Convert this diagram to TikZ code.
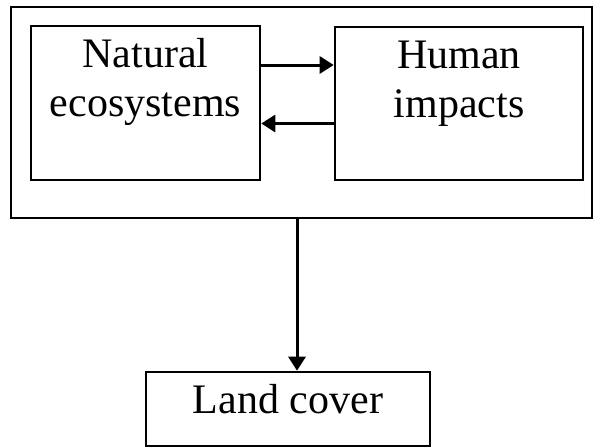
\documentclass[tikz,border=0pt]{standalone}
\usepackage{fontspec}
\setmainfont{Liberation Serif}
\usetikzlibrary{positioning,calc,arrows.meta}

\begin{document}
\begin{tikzpicture}[
  ruta/.style={rectangle,draw,line width=1.3pt,inner sep=0pt},
  rubrik/.style={align=center,inner sep=0pt,font=\fontsize{21pt}{24.5pt}\selectfont},
  pil/.style={->,line width=1.5pt},
  >={Triangle[length=7pt,width=8.5pt]}
  ]
  \useasboundingbox (0,0) rectangle (296.5pt,-223.5pt);

  \node [ruta,minimum width=290.5pt,minimum height=105.5pt] (SYS) at (150.75pt,-56.25pt) {};
  \node [ruta,minimum width=114.5pt,minimum height=77pt] (NAT) at (72.75pt,-51.5pt) {};
  \node [ruta,minimum width=124pt,minimum height=76.5pt] (HUM) at (229.5pt,-51.75pt) {};
  \node [ruta,minimum width=142pt,minimum height=37pt] (LND) at (144pt,-204.5pt) {};

  \node [rubrik,below=6.8pt of NAT.north] (NATtxt) {Natural\\ecosystems};
  \node [rubrik,below=7.2pt of HUM.north] (HUMtxt) {Human\\impacts};
  \node [rubrik,below=6.8pt of LND.north] (LNDtxt) {Land cover};

  \coordinate (DROP) at (148.5pt,0);

  \draw[pil] ([yshift=19pt]NAT.east) -- ([yshift=19pt]NAT.east-|HUM.west);
  \draw[pil] ([yshift=-10pt]HUM.west) -- ([yshift=-10pt]HUM.west-|NAT.east);
  \draw[pil] (DROP|-SYS.south) -- (DROP|-LND.north);
\end{tikzpicture}
\end{document}
